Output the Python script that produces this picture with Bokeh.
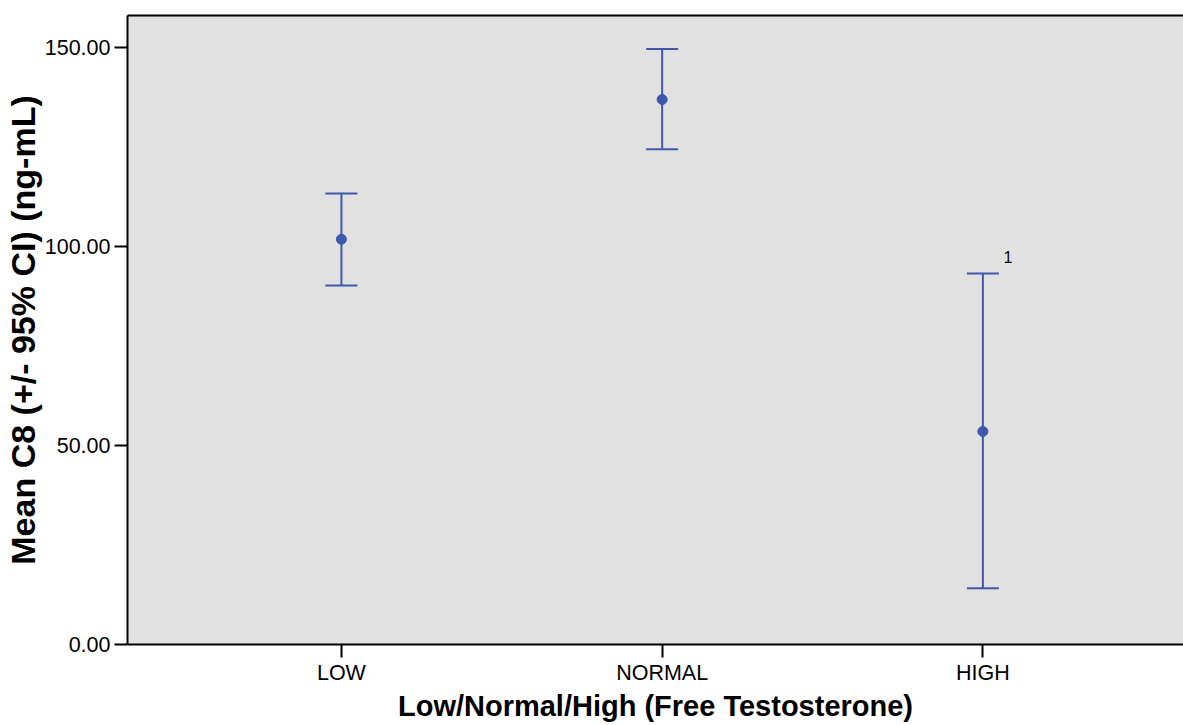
from bokeh.plotting import figure
from bokeh.models import (ColumnDataSource, Whisker, TeeHead, FixedTicker,
                          NumeralTickFormatter, Range1d, Label, LinearAxis)
from bokeh.embed import file_html
from bokeh.resources import INLINE

# ---- data ----
categories = ["LOW", "NORMAL", "HIGH"]
means = [101.8, 136.9, 53.5]
ci_lower = [90.2, 124.4, 14.1]
ci_upper = [113.3, 149.6, 93.2]
footnotes = ["", "", "1"]
y_ticks = [0, 50, 100, 150]

FONT = "Liberation Sans"
BLUE = "#3E58AC"

xs = list(range(len(categories)))
src = ColumnDataSource(dict(x=xs, mean=means, lower=ci_lower, upper=ci_upper))

p = figure(width=1183, height=725, output_backend="svg", toolbar_location=None,
           x_range=Range1d(-0.667, 2.6255), y_range=Range1d(0, 158.0),
           min_border_left=127, min_border_right=0, min_border_top=15,
           min_border_bottom=81)
p.background_fill_color = "#E1E1E1"
p.border_fill_color = "white"
p.outline_line_color = None
p.xgrid.visible = False
p.ygrid.visible = False

# error bars
wh = Whisker(source=src, base="x", upper="upper", lower="lower",
             line_color=BLUE, line_width=2,
             upper_head=TeeHead(size=32, line_color=BLUE, line_width=2),
             lower_head=TeeHead(size=32, line_color=BLUE, line_width=2))
p.add_layout(wh)
p.scatter("x", "mean", source=src, size=10, color=BLUE)

# footnote marker
for i, f in enumerate(footnotes):
    if f:
        p.add_layout(Label(x=xs[i], y=ci_upper[i], text=f, x_offset=25, y_offset=16,
                           text_align="center", text_baseline="middle",
                           text_font=FONT, text_font_size="16px", text_color="black"))

# axes
for ax in (p.xaxis[0], p.yaxis[0]):
    ax.axis_line_width = 2
    ax.axis_line_color = "black"
    ax.major_tick_line_width = 2
    ax.major_tick_line_color = "black"
    ax.major_tick_out = 13
    ax.major_tick_in = 0
    ax.minor_tick_line_color = None
    ax.major_label_text_font = FONT
    ax.major_label_text_font_size = "21.5px"
    ax.major_label_text_color = "black"
    ax.axis_label_text_font = FONT
    ax.axis_label_text_font_style = "bold"
    ax.axis_label_text_color = "black"

p.xaxis.ticker = FixedTicker(ticks=xs)
p.xaxis.major_label_overrides = {i: c for i, c in enumerate(categories)}
p.xaxis.axis_label = "Low/Normal/High (Free Testosterone)"
p.xaxis.axis_label_text_font_size = "29px"
p.xaxis.major_label_standoff = 3
p.xaxis.axis_label_standoff = 2
p.xaxis.axis_label_text_line_height = 1.0
p.xaxis.major_label_text_line_height = 1.0

p.yaxis.ticker = FixedTicker(ticks=y_ticks)
p.yaxis.formatter = NumeralTickFormatter(format="0.00")
p.yaxis.axis_label = "Mean C8 (+/- 95% CI) (ng-mL)"
p.yaxis.axis_label_text_font_size = "34px"
p.yaxis.axis_label_text_line_height = 1.0
p.yaxis.major_label_standoff = 4
p.yaxis.axis_label_standoff = 0

# top border line
top = LinearAxis(axis_line_width=2, axis_line_color="black",
                 major_tick_line_color=None, minor_tick_line_color=None,
                 major_label_text_font_size="0px", ticker=FixedTicker(ticks=[]))
p.add_layout(top, "above")

open("out.html", "w").write(file_html(p, INLINE))
